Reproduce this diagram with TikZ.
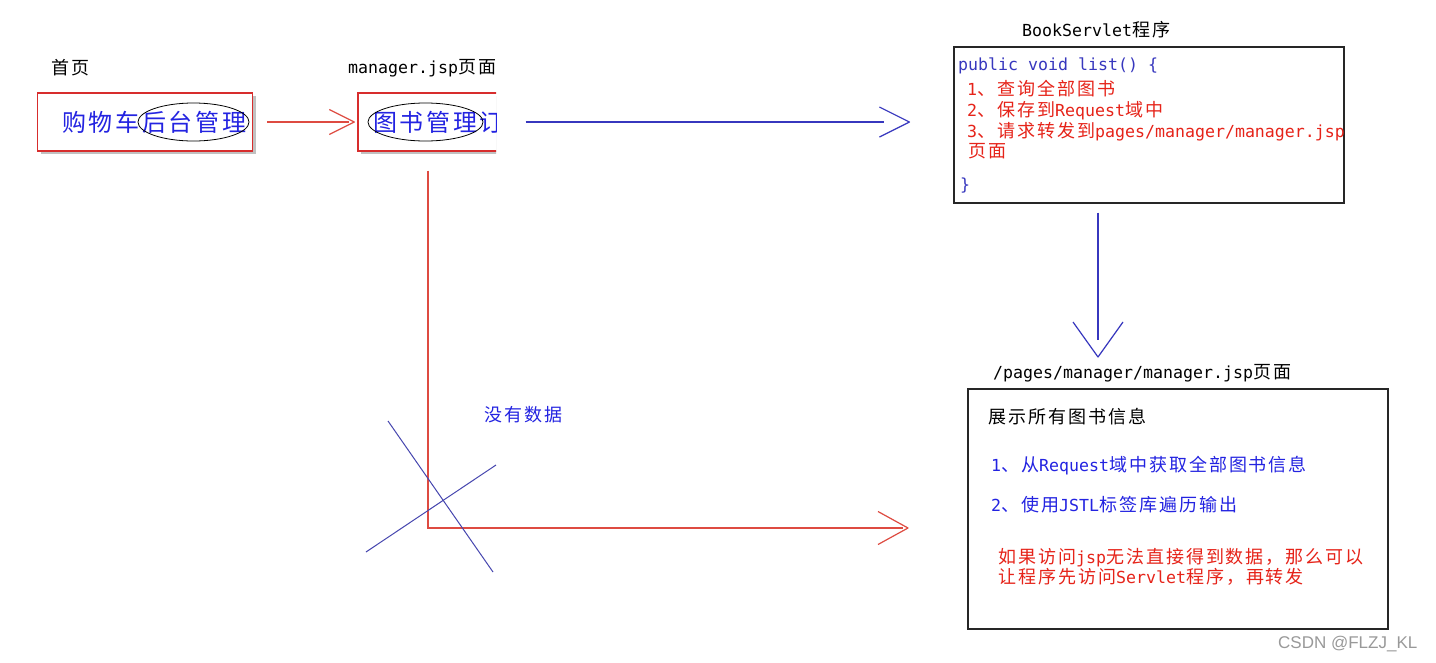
\documentclass[tikz,border=0pt]{standalone}
\usepackage{fontspec}
\setmainfont{Noto Sans CJK SC}
\newfontfamily\cjk[LetterSpace=11]{Noto Sans CJK SC}
\newfontfamily\mono{DejaVu Sans Mono}
\newfontfamily\wmfont{Liberation Sans}
\usetikzlibrary{arrows.meta,shapes.geometric,shadows}
\newcommand\M[1]{{\mono\fontsize{16.6}{20}\selectfont #1}}
\definecolor{tblue}{RGB}{35,35,225}
\definecolor{tred}{RGB}{230,35,25}
\definecolor{bred}{RGB}{215,45,45}
\definecolor{lred}{RGB}{222,75,65}
\definecolor{lblue}{RGB}{55,55,190}
\definecolor{xblue}{RGB}{70,70,175}

\pgfdeclarearrow{
  name = VGap,
  parameters = {\the\pgfarrowlength,\the\pgfarrowwidth,\the\pgfarrowinset},
  setup code = {
    \pgfarrowssettipend{\pgfarrowlength}
    \pgfarrowssetlineend{\pgfarrowinset}
    \pgfarrowssavethe\pgfarrowlength
    \pgfarrowssavethe\pgfarrowwidth
  },
  drawing code = {
    \pgfsetroundjoin
    \pgfpathmoveto{\pgfpoint{0pt}{.5\pgfarrowwidth}}
    \pgfpathlineto{\pgfpoint{\pgfarrowlength}{0pt}}
    \pgfpathlineto{\pgfpoint{0pt}{-.5\pgfarrowwidth}}
    \pgfusepathqstroke
  },
  defaults = {length=26pt, width=30pt, inset=0pt}
}

\begin{document}
\begin{tikzpicture}[x=1pt,y=-1pt,
  txt/.style={inner sep=0pt, anchor=west, text height=15.8pt, text depth=2.2pt, font=\cjk\fontsize{18}{20}\selectfont},
  big/.style={inner sep=0pt, anchor=west, text height=21pt, text depth=3pt, font=\cjk\fontsize{24}{28}\selectfont},
  redbox/.style={draw=bred, line width=1.4pt, fill=white, inner sep=0pt,
    drop shadow={shadow xshift=3pt, shadow yshift=-3pt, opacity=0.4, fill=black!60}},
  blackbox/.style={draw=black!85, line width=1.2pt, inner sep=0pt},
  oval/.style={draw=black, ellipse, line width=0.8pt, inner sep=0pt},
  redline/.style={draw=lred, line width=1.2pt},
  blueline/.style={draw=lblue, line width=1.2pt},
  crossline/.style={draw=xblue, line width=1pt}
]
\useasboundingbox[fill=white] (0,0) rectangle (1436,662);

% page 1: home
\node[txt] (l1) at (51,68) {首页};
\node[redbox, minimum width=215pt, minimum height=58pt] (b1) at (145,122) {};
\node[big, text=tblue] (t1) at (62,122) {购物车后台管理};
\node[oval, minimum width=111pt, minimum height=38pt] (e1) at (193.5,122) {};

% page 2: manager.jsp
\node[txt] (l2) at (348,67) {\M{manager.jsp}页面};
\begin{scope}
  \clip (340,80) rectangle (496,170);
  \node[redbox, minimum width=162pt, minimum height=58pt] (b2) at (439,122) {};
  \node[big, text=tblue] (t2) at (373,122) {图书管理订单管理};
  \node[oval, minimum width=115pt, minimum height=38pt] (e2) at (425.5,122) {};
\end{scope}

% servlet box
\node[txt] (l3) at (1022,30) {\M{BookServlet}程序};
\node[blackbox, minimum width=390pt, minimum height=156pt] (cb) at (1149,125) {};
\node[txt, text=lblue] (c1) at (958,64) {\M{public void list() \{}};
\node[txt, text=tred] (c2) at (967,89) {\M{1}、查询全部图书};
\node[txt, text=tred] (c3) at (967,110) {\M{2}、保存到\M{Request}域中};
\node[txt, text=tred] (c4) at (967,131) {\M{3}、请求转发到\M{pages/manager/manager.jsp}};
\node[txt, text=tred] (c5) at (968,151) {页面};
\node[txt, text=lblue] (c6) at (960,184) {\M{\}}};

% result page box
\node[txt] (l4) at (993,372) {\M{/pages/manager/manager.jsp}页面};
\node[blackbox, minimum width=420pt, minimum height=240pt] (rb) at (1178,509) {};
\node[txt] (r1) at (988,417) {展示所有图书信息};
\node[txt, text=tblue] (r2) at (991,465) {\M{1}、从\M{Request}域中获取全部图书信息};
\node[txt, text=tblue] (r3) at (991,505) {\M{2}、使用\M{JSTL}标签库遍历输出};
\node[txt, text=tred] (r4) at (998,557) {如果访问\M{jsp}无法直接得到数据，那么可以};
\node[txt, text=tred] (r5) at (998,577) {让程序先访问\M{Servlet}程序，再转发};

% no data
\node[txt, text=tblue] (nd) at (484,415) {没有数据};

% connectors
\draw[redline, -{VGap[length=25pt,width=25pt,inset=20pt]}, shorten <=14pt, shorten >=3pt] (b1.east) -- (b2.west);
\draw[blueline, -{VGap[length=30pt,width=30pt,inset=5pt]}, shorten <=5pt, shorten >=44pt] (b2.east) -- (b2.east -| cb.west);
\coordinate (d1) at (1098,357);
\draw[blueline, -{VGap[length=35pt,width=50pt,inset=18pt]}, shorten <=9pt] (cb.south -| d1) -- (d1);
\coordinate (r0) at (428,170);
\coordinate (rt) at (908,528);
\draw[redline, -{VGap[length=30pt,width=33pt,inset=25pt]}, shorten <=19pt] (b2.south -| r0) |- (rt);

% cross
\coordinate (x1) at (388,421);
\coordinate (x2) at (493,572);
\coordinate (x3) at (366,552);
\coordinate (x4) at (496,465);
\draw[crossline] (x1) -- (x2);
\draw[crossline] (x3) -- (x4);

% watermark
\node[inner sep=0pt, anchor=west, font=\wmfont\fontsize{17}{20}\selectfont, text=black!40] (wm) at (1278,644) {CSDN @FLZJ\_KL};
\end{tikzpicture}
\end{document}
